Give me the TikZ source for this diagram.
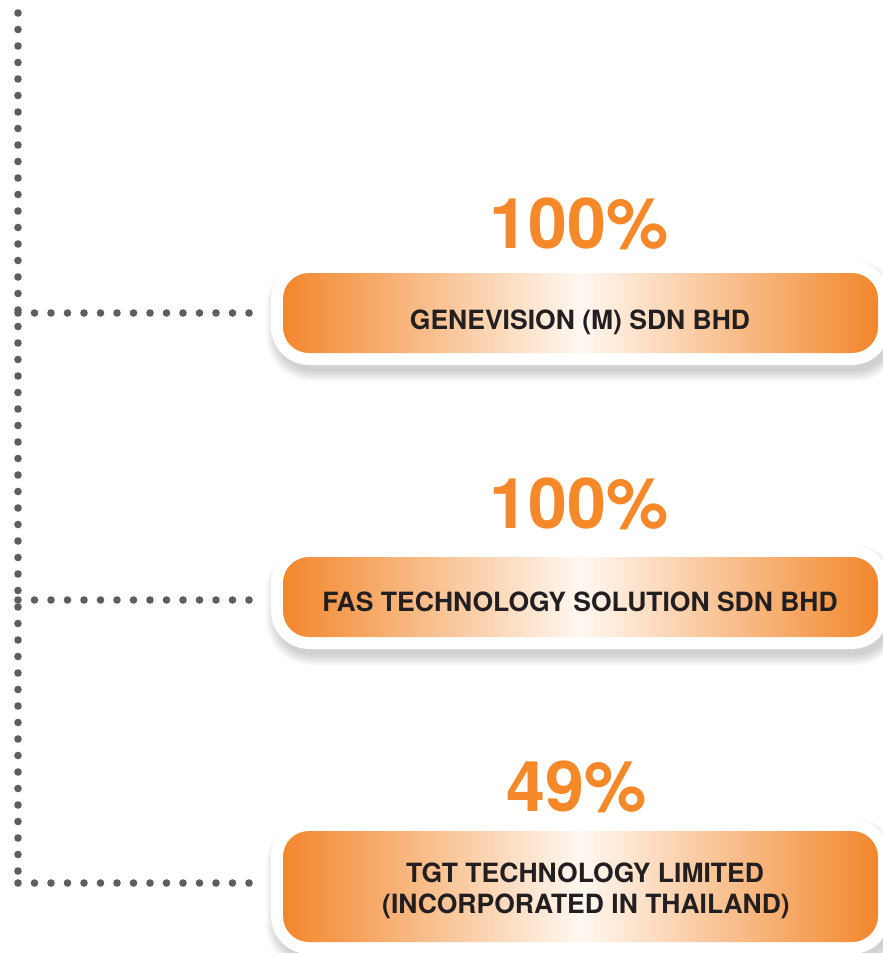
\documentclass[tikz,border=0pt]{standalone}
\usepackage{fontspec}
\setmainfont{TeX Gyre Heros}
\definecolor{orgdark}{HTML}{F2872C}
\definecolor{orgpale}{HTML}{FFF8F1}
\definecolor{pctorange}{HTML}{F5892A}
\definecolor{dotgray}{HTML}{5E5E60}
\definecolor{txtdark}{HTML}{231F20}
\tikzset{
  dotline/.style={draw=dotgray, line width=7.6pt, line cap=round,
    dash pattern=on 0pt off 16.5pt},
  shadowring/.style={preaction={draw=black, draw opacity=0.03, line width=#1,
    transform canvas={xshift=3pt, yshift=-8pt}}},
  orgbox/.style={rectangle, rounded corners=26pt, minimum width=595pt,
    inner sep=0pt,
    shadowring=40pt, shadowring=36pt, shadowring=32pt, shadowring=28pt,
    shadowring=24pt, shadowring=20pt,
    preaction={draw=white, line width=24pt},
    left color=orgdark, right color=orgdark, middle color=orgpale},
  pct/.style={text=pctorange, font=\fontsize{70}{70}\selectfont\bfseries,
    inner sep=0pt, anchor=base},
  boxtext/.style={text=txtdark, font=\fontsize{26.5}{31}\selectfont\bfseries,
    inner sep=0pt, anchor=base, align=center}
}
\begin{document}
\begin{tikzpicture}[x=1pt, y=-1pt]
\useasboundingbox (0,0) rectangle (883,953);
\fill[white] (0,0) rectangle (883,953);

% subsidiary boxes
\node[orgbox, minimum height=80pt] (gen) at (580.5,313) {};
\node[orgbox, minimum height=80pt] (fas) at (580.5,597) {};
\node[orgbox, minimum height=111pt] (tgt) at (580.5,886.5) {};

% box captions
\node[boxtext] (gentxt) at (580,329) {GENEVISION (M) SDN BHD};
\node[boxtext] (fastxt) at (580,611) {FAS TECHNOLOGY SOLUTION SDN BHD};
\node[boxtext] (tgttxt1) at (585,882) {TGT TECHNOLOGY LIMITED};
\node[boxtext] (tgttxt2) at (586,913) {(INCORPORATED IN THAILAND)};

% shareholdings
\node[pct] (p1) at (579,248) {100\%};
\node[pct] (p2) at (579,528) {100\%};
\node[pct] (p3) at (577,811) {49\%};

% dotted ownership tree
\coordinate (top) at (18,13);
\coordinate (j1) at (18,313);
\coordinate (j2) at (18,600);
\coordinate (j3) at (18,883);
\draw[dotline] (top) -- (j3);
\draw[dotline] (j1) -- ([xshift=-32pt]gen.west |- j1);
\draw[dotline] (j2) -- ([xshift=-32pt]fas.west |- j2);
\draw[dotline] (j3) -- ([xshift=-32pt]tgt.west |- j3);
\end{tikzpicture}
\end{document}
